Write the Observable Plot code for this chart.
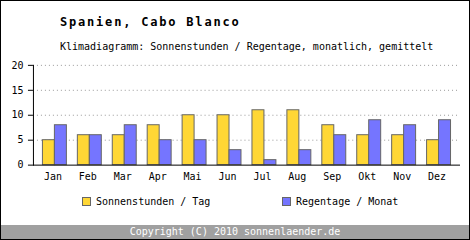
<!DOCTYPE html>
<html>
<head>
<meta charset="utf-8">
<script src="https://cdn.jsdelivr.net/npm/d3@7"></script>
<script src="https://cdn.jsdelivr.net/npm/@observablehq/plot@0.6"></script>
<style>
  html, body { margin: 0; padding: 0; background: #fff; }
  #wrap { position: relative; width: 470px; height: 240px; box-sizing: border-box; border: 1px solid #000; background: #fff; overflow: hidden; font-family: "DejaVu Sans Mono", monospace; color: #000; }
  #chart { position: absolute; left: -1px; top: -1px; }
  .t { position: absolute; white-space: pre; line-height: 1; }
  #title { left: 59px; top: 15px; font-size: 12px; font-weight: bold; letter-spacing: 1.8px; }
  #subtitle { left: 59px; top: 41px; font-size: 10px; }
  .sw { position: absolute; width: 7px; height: 7px; border: 1px solid #666; }
  .lg { font-size: 10px; top: 196px; }
  #footer { position: absolute; left: 0; top: 224px; width: 468px; height: 14px; background: #a0a0a0; color: #fff; font-size: 10px; text-align: center; line-height: 14px; }
</style>
</head>
<body>
<div id="wrap">
  <div id="chart"></div>
  <div class="t" id="title"></div>
  <div class="t" id="subtitle"></div>
  <div class="sw" id="sw1" style="left:81px; top:196px; background:#FFD735;"></div>
  <div class="t lg" id="lg1" style="left:95px;"></div>
  <div class="sw" id="sw2" style="left:281px; top:196px; background:#7575FF;"></div>
  <div class="t lg" id="lg2" style="left:295px;"></div>
  <div id="footer"></div>
</div>
<script>
const titleText = "Spanien, Cabo Blanco";
const subtitleText = "Klimadiagramm: Sonnenstunden / Regentage, monatlich, gemittelt";
const footerText = "Copyright (C) 2010 sonnenlaender.de";
const seriesNames = ["Sonnenstunden / Tag", "Regentage / Monat"];
const seriesColors = ["#FFD735", "#7575FF"];
const months = ["Jan", "Feb", "Mar", "Apr", "Mai", "Jun", "Jul", "Aug", "Sep", "Okt", "Nov", "Dez"];
const sunHours = [5, 6, 6, 8, 10, 10, 11, 11, 8, 6, 6, 5];
const rainDays = [8, 6, 8, 5, 5, 3, 1, 3, 6, 9, 8, 9];
const yTicks = [0, 5, 10, 15, 20];

document.getElementById("title").textContent = titleText;
document.getElementById("subtitle").textContent = subtitleText;
document.getElementById("lg1").textContent = seriesNames[0];
document.getElementById("lg2").textContent = seriesNames[1];
document.getElementById("footer").textContent = footerText;

const data = months.map((m, i) => ({month: m, sun: sunHours[i], rain: rainDays[i]}));

const chart = Plot.plot({
  width: 470,
  height: 185,
  marginLeft: 33,
  marginRight: 9,
  marginTop: 65,
  marginBottom: 20,
  style: {fontFamily: "DejaVu Sans Mono", fontSize: "10px", color: "#000", background: "transparent", overflow: "visible"},
  x: {domain: months, paddingInner: 0, paddingOuter: 4 / 35},
  y: {domain: [0, 20]},
  marks: [
    Plot.gridY(yTicks.filter(d => d > 0), {stroke: "#999", strokeOpacity: 1, strokeDasharray: "1,3"}),
    Plot.barY(data, {x: "month", y: "sun", fill: seriesColors[0], stroke: "#666", strokeWidth: 1, insetLeft: 5.5, insetRight: 17.5}),
    Plot.barY(data, {x: "month", y: "rain", fill: seriesColors[1], stroke: "#666", strokeWidth: 1, insetLeft: 17.5, insetRight: 5.5}),
    Plot.ruleY([0], {stroke: "#000", strokeWidth: 1}),
    Plot.frame({anchor: "left", stroke: "#000", strokeWidth: 1}),
    Plot.axisY({ticks: yTicks, tickSize: 5, tickPadding: 5, label: null, stroke: "#000", fill: "#000"}),
    Plot.axisX({tickSize: 0, tickPadding: 8, label: null, dx: -2, fill: "#000"})
  ]
});
document.getElementById("chart").appendChild(chart);
</script>
</body>
</html>
